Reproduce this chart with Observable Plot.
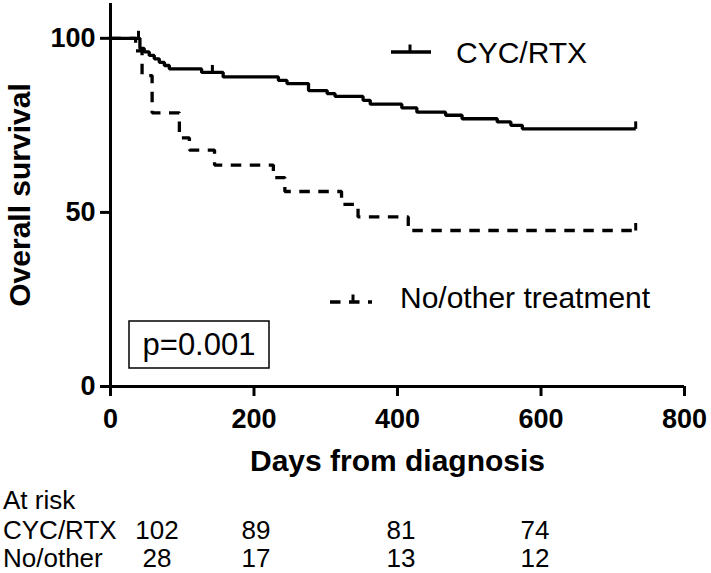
<!DOCTYPE html>
<html>
<head>
<meta charset="utf-8">
<script src="https://cdn.jsdelivr.net/npm/d3@7"></script>
<script src="https://cdn.jsdelivr.net/npm/@observablehq/plot@0.6"></script>
<style>
  html, body { margin: 0; padding: 0; background: #fff; }
  #wrap { position: relative; width: 711px; height: 573px; overflow: hidden; font-family: "Liberation Sans", Arial, sans-serif; }
  #wrap > svg { position: absolute; left: 0; top: 0; }
</style>
</head>
<body>
<div id="wrap"></div>
<script>
// ---- Data ----
const groups = ["CYC/RTX", "No/other treatment"];

const cycDays = [0, 41, 47, 54, 61, 68, 75, 82, 127, 157, 234, 246, 276, 302, 313, 352, 362, 406, 427, 467, 490, 539, 558, 574, 732];
const cycSurv = [100, 97.1, 96.1, 95.1, 94.1, 93.1, 92.2, 91.2, 90.2, 88.9, 87.9, 87.0, 85.0, 84.1, 83.3, 82.2, 81.1, 80.0, 78.8, 77.9, 76.9, 76.0, 75.0, 74.0, 74.0];
const cycCensorDays = [39, 142, 732];
const cycCensorSurv = [100, 90.2, 74.0];

const noDays = [0, 35, 44, 58, 96, 110, 145, 227, 243, 322, 345, 415, 732];
const noSurv = [100, 96.4, 89.3, 78.6, 71.4, 67.9, 63.6, 60.0, 56.0, 52.3, 48.7, 44.8, 44.8];
const noCensorDays = [732];
const noCensorSurv = [44.8];

const xTicks = [0, 200, 400, 600, 800];
const yTicks = [0, 50, 100];
const xLabel = "Days from diagnosis";
const yLabel = "Overall survival";
const pText = "p=0.001";

const riskTitle = "At risk";
const riskRowLabels = ["CYC/RTX", "No/other"];
const riskCyc = [102, 89, 81, 74];
const riskNo = [28, 17, 13, 12];

// ---- Tables built from the arrays ----
const survival = [
  ...cycDays.map((d, i) => ({group: groups[0], day: d, surv: cycSurv[i]})),
  ...noDays.map((d, i) => ({group: groups[1], day: d, surv: noSurv[i]}))
];
const censored = [
  ...cycCensorDays.map((d, i) => ({group: groups[0], day: d, surv: cycCensorSurv[i]})),
  ...noCensorDays.map((d, i) => ({group: groups[1], day: d, surv: noCensorSurv[i]}))
];

const FONT = '"Liberation Sans", Arial, Helvetica, sans-serif';
const DASH = "10.5,8.5";
const censorTick = { draw(ctx) { ctx.moveTo(0, 0); ctx.lineTo(0, -7.5); } };

const chart = Plot.plot({
  width: 711,
  height: 480,
  marginLeft: 110,
  marginRight: 27,
  marginTop: 3,
  marginBottom: 94,
  style: { fontFamily: FONT, background: "white", color: "black", overflow: "visible" },
  x: { domain: [0, 800] },
  y: { domain: [0, 110] },
  marks: [
    Plot.line(survival.filter(d => d.group === groups[1]), {
      x: "day", y: "surv", curve: "step-after", stroke: "black",
      strokeWidth: 3.3, strokeDasharray: DASH, strokeLinecap: "butt", strokeLinejoin: "miter"
    }),
    Plot.line(survival.filter(d => d.group === groups[0]), {
      x: "day", y: "surv", curve: "step-after", stroke: "black",
      strokeWidth: 3.3, strokeLinecap: "butt", strokeLinejoin: "miter"
    }),
    Plot.dot(censored, {
      x: "day", y: "surv", symbol: censorTick, fill: "none", stroke: "black", strokeWidth: 3
    }),
    Plot.ruleX([0], { stroke: "black", strokeWidth: 3 }),
    Plot.ruleY([0], { stroke: "black", strokeWidth: 3 }),
    Plot.axisY({ ticks: yTicks, tickSize: 10, tickPadding: 5, strokeWidth: 3, fontSize: 27, fontWeight: "bold", label: null }),
    Plot.axisY({ ticks: [], tickSize: 0, label: yLabel, labelAnchor: "center", labelOffset: 102, labelArrow: "none", fontSize: 30, fontWeight: "bold" }),
    Plot.axisX({ ticks: xTicks, tickSize: 10, tickPadding: 12, strokeWidth: 3, fontSize: 27, fontWeight: "bold", label: null }),
    Plot.axisX({ ticks: [], tickSize: 0, label: xLabel, labelAnchor: "center", labelOffset: 84, labelArrow: "none", fontSize: 30, fontWeight: "bold" })
  ]
});

const wrap = document.getElementById("wrap");
wrap.appendChild(chart);

// ---- Overlay: legend, p-value box, at-risk table ----
const ov = d3.create("svg")
  .attr("width", 711).attr("height", 573)
  .attr("viewBox", "0 0 711 573")
  .style("font-family", FONT)
  .style("pointer-events", "none");

// Legend: CYC/RTX
const lg1 = ov.append("g");
lg1.append("line").attr("x1", 391).attr("x2", 431).attr("y1", 52).attr("y2", 52)
  .attr("stroke", "black").attr("stroke-width", 3.3);
lg1.append("line").attr("x1", 410).attr("x2", 410).attr("y1", 52).attr("y2", 44.5)
  .attr("stroke", "black").attr("stroke-width", 3);
lg1.append("text").attr("x", 456).attr("y", 63).attr("font-size", 30).text(groups[0]);

// Legend: No/other treatment
const lg2 = ov.append("g");
lg2.append("line").attr("x1", 330).attr("x2", 372).attr("y1", 302).attr("y2", 302)
  .attr("stroke", "black").attr("stroke-width", 3.3).attr("stroke-dasharray", DASH);
lg2.append("line").attr("x1", 353).attr("x2", 353).attr("y1", 302).attr("y2", 294.5)
  .attr("stroke", "black").attr("stroke-width", 3);
lg2.append("text").attr("x", 400).attr("y", 307.5).attr("font-size", 30).text(groups[1]);

// p-value box
ov.append("rect").attr("x", 129).attr("y", 321).attr("width", 140).attr("height", 47)
  .attr("fill", "none").attr("stroke", "black").attr("stroke-width", 1.5);
ov.append("text").attr("x", 199).attr("y", 355).attr("text-anchor", "middle")
  .attr("font-size", 31).text(pText);

// At-risk table
const colX = [157, 256, 401, 535];
const rowY = [539, 567];
ov.append("text").attr("x", 3).attr("y", 508.5).attr("font-size", 26).text(riskTitle);
[riskCyc, riskNo].forEach((row, r) => {
  ov.append("text").attr("x", 3).attr("y", rowY[r]).attr("font-size", 26).text(riskRowLabels[r]);
  row.forEach((v, c) => {
    ov.append("text").attr("x", colX[c]).attr("y", rowY[r]).attr("text-anchor", "middle")
      .attr("font-size", 26).text(v);
  });
});

wrap.appendChild(ov.node());
</script>
</body>
</html>
